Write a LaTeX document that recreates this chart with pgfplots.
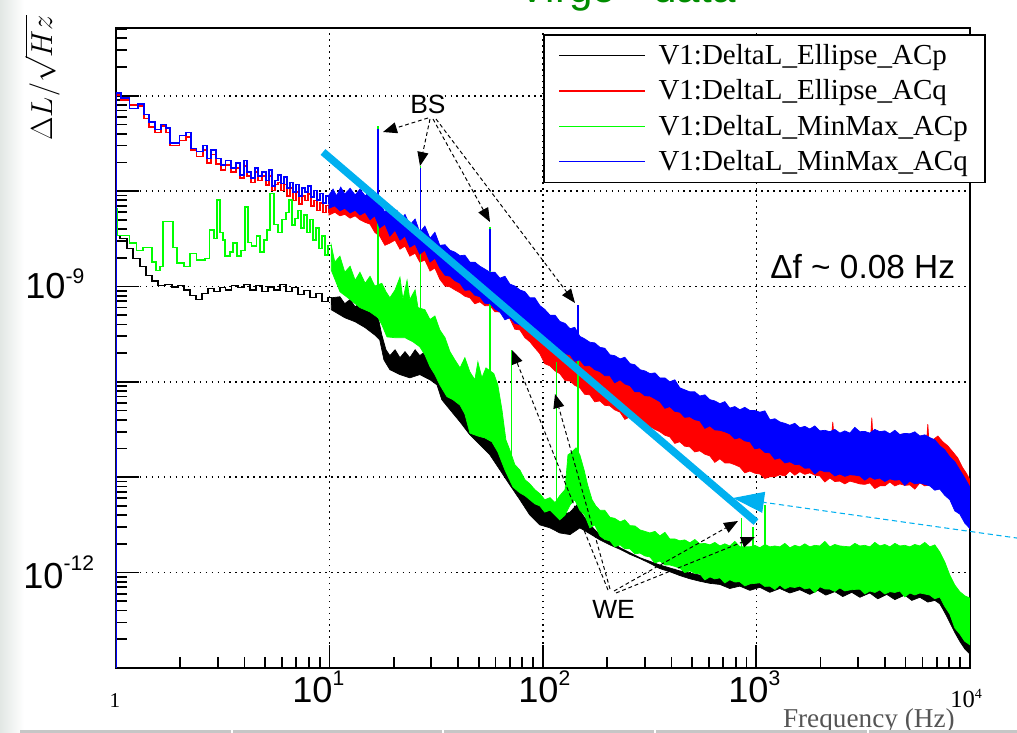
\documentclass[border=0pt]{standalone}
\usepackage{fontspec}
\setmainfont{Liberation Serif}
\setsansfont{Liberation Sans}
\usepackage{pgfplots}
\pgfplotsset{compat=1.18}
\usetikzlibrary{arrows.meta}
\definecolor{rgreen}{RGB}{0,255,0}
\definecolor{rred}{RGB}{255,0,0}
\definecolor{rblue}{RGB}{0,0,255}
\definecolor{cyanline}{RGB}{0,176,240}
\definecolor{titlegreen}{RGB}{0,140,0}
\definecolor{freqgray}{RGB}{85,85,85}
\pgfplotsset{
  steps/.style={const plot, forget plot, line width=0.75pt},
  band/.style={forget plot, line width=0.4pt},
  spike/.style={forget plot, line width=0.75pt},
}
\begin{document}
\begin{tikzpicture}
\begin{scope}[x=0.02cm, y=-0.02cm]
\shade[left color={rgb,255:red,226;green,231;blue,228}, right color=white] (0,0) rectangle (24,733);
\end{scope}
\begin{axis}[
  at={(2.32cm,-13.36cm)}, anchor=south west,
  scale only axis, width=17.08cm, height=12.8cm,
  xmode=log, ymode=log,
  xmin=1, xmax=10000, ymin=1e-13, ymax=5.13e-7,
  xtick={1,10,100,1000,10000},
  ytick={1e-13,1e-12,1e-11,1e-10,1e-9,1e-8,1e-7},
  minor xtick={2,3,4,5,6,7,8,9,20,30,40,50,60,70,80,90,200,300,400,500,600,700,800,900,2000,3000,4000,5000,6000,7000,8000,9000},
  minor ytick={2e-13,3e-13,4e-13,5e-13,6e-13,7e-13,8e-13,9e-13,2e-12,3e-12,4e-12,5e-12,6e-12,7e-12,8e-12,9e-12,2e-11,3e-11,4e-11,5e-11,6e-11,7e-11,8e-11,9e-11,2e-10,3e-10,4e-10,5e-10,6e-10,7e-10,8e-10,9e-10,2e-9,3e-9,4e-9,5e-9,6e-9,7e-9,8e-9,9e-9,2e-8,3e-8,4e-8,5e-8,6e-8,7e-8,8e-8,9e-8,2e-7,3e-7,4e-7,5e-7},
  xticklabels={}, yticklabels={},
  xtick pos=left, ytick pos=left,
  tick align=inside,
  major tick length=0.46cm, minor tick length=0.22cm,
  tick style={black, line width=1pt},
  grid=major,
  major grid style={black, line width=0.9pt, dash pattern=on 0.9pt off 2.5pt},
  axis line style={black, line width=1.1pt},
  legend style={at={(0.5,0.9906)}, anchor=north west, draw=black, line width=1.1pt, fill=white,
    inner xsep=0.3cm, inner ysep=0.14cm, row sep=0.15cm, column sep=0.2cm,
    font=\fontsize{16.5}{19}\selectfont, nodes={inner sep=0.05cm}},
  legend cell align=left,
  legend image code/.code={\draw[#1, line width=0.7pt] (0cm,0cm) -- (1.72cm,0cm);},
]
\addlegendimage{black}\addlegendentry{V1:DeltaL\_Ellipse\_ACp}
\addlegendimage{rred}\addlegendentry{V1:DeltaL\_Ellipse\_ACq}
\addlegendimage{rgreen}\addlegendentry{V1:DeltaL\_MinMax\_ACp}
\addlegendimage{rblue}\addlegendentry{V1:DeltaL\_MinMax\_ACq}

% ---------------- black: V1:DeltaL_Ellipse_ACp
\addplot[steps, black] coordinates {(1,1e-13) (1,3.45e-9) (1.044,3.2e-9) (1.126,2.52e-9) (1.20,1.98e-9) (1.295,1.63e-9) (1.382,1.31e-9) (1.474,1.14e-9) (1.573,1.03e-9) (1.697,1.05e-9) (1.83,9.9e-10) (1.95,1.02e-9) (2.08,9.2e-10) (2.22,8.0e-10) (2.37,7.3e-10) (2.53,8.4e-10) (2.70,9.5e-10) (2.88,8.8e-10) (3.07,9.7e-10) (3.27,9.2e-10) (3.49,1.03e-9) (3.73,9.7e-10) (3.98,1.05e-9) (4.24,9.2e-10) (4.53,1.02e-9) (4.83,8.8e-10) (5.15,9.9e-10) (5.50,9.2e-10) (5.86,1.05e-9) (6.25,8.8e-10) (6.67,9.7e-10) (7.12,8.2e-10) (7.60,9.0e-10) (8.10,7.6e-10) (8.65,8.4e-10) (9.22,6.9e-10) (9.84,7.6e-10) (10.2,6.4e-10)};
\addplot[band, draw=black, fill=black] coordinates {(10.2,7.6e-10) (11.2,7.8e-10) (11.8,6.6e-10) (12.5,7.3e-10) (13.2,6.1e-10) (13.9,6.75e-10) (14.7,5.7e-10) (15.5,6.4e-10) (16.7,5.4e-10) (17.6,3.1e-10) (18.4,2.17e-10) (19.2,1.88e-10) (20.3,2.17e-10) (21.4,1.79e-10) (22.6,2.07e-10) (23.8,1.79e-10) (25.2,2.17e-10) (26.5,1.88e-10) (28.0,2.07e-10) (29.6,1.70e-10) (31.9,1.51e-10) (33.6,1.05e-10) (35.5,7.85e-11) (38.7,6.5e-11) (42.2,5.3e-11) (45.5,4.6e-11) (50.7,3.8e-11) (56.5,3.1e-11) (62.9,2.46e-11) (70.0,1.59e-11) (78.0,1.03e-11) (86.9,7.0e-12) (96.8,5.25e-12) (108,4.5e-12) (120,3.9e-12) (134,4.3e-12) (144,5.1e-12) (154,4.0e-12) (166,3.16e-12) (185,2.5e-12) (230,1.82e-12) (285,1.43e-12) (353,1.2e-12) (438,1.04e-12) (543,9.4e-13) (675,8.8e-13) (837,8.4e-13) (1039,8.0e-13) (1599,7.6e-13) (2742,7.2e-13) (4701,7.2e-13) (6856,6.9e-13) (7637,4.6e-13) (8507,2.8e-13) (9474,1.96e-13) (10000,1.75e-13)
(10000,1.4e-13) (9474,1.58e-13) (8977,1.9e-13) (8507,2.35e-13) (8060,3.0e-13) (7637,3.8e-13) (7237,4.7e-13) (6856,5.1e-13) (6359,4.9e-13) (5833,5.5e-13) (5349,5.1e-13) (4962,5.8e-13) (4455,5.2e-13) (4083,5.9e-13) (3707,5.3e-13) (3402,6.1e-13) (3054,5.5e-13) (2800,6.2e-13) (2541,5.6e-13) (2332,6.3e-13) (2116,5.8e-13) (1941,6.5e-13) (1781,5.9e-13) (1599,6.6e-13) (1435,6.1e-13) (1288,6.8e-13) (1157,6.2e-13) (1039,7.0e-13) (933,6.5e-13) (837,7.2e-13) (751,6.8e-13) (675,7.5e-13) (606,7.7e-13) (543,8.1e-13) (488,8.6e-13) (438,9.3e-13) (393,1.02e-12) (353,1.1e-12) (317,1.25e-12) (285,1.4e-12) (256,1.55e-12) (230,1.75e-12) (206,1.95e-12) (185,2.2e-12) (166,2.55e-12) (149,2.94e-12) (134,2.5e-12) (120,2.6e-12) (108,2.94e-12) (96.8,3.16e-12) (86.9,4.0e-12) (78.0,5.8e-12) (70.0,8.3e-12) (62.9,1.19e-11) (56.5,1.71e-11) (50.7,2.18e-11) (45.5,2.78e-11) (40.9,3.8e-11) (36.7,5.1e-11) (33.6,6.5e-11) (31.9,9.3e-11) (29.6,1.05e-10) (26.5,1.19e-10) (23.8,1.1e-10) (21.4,1.19e-10) (19.2,1.34e-10) (18.0,1.70e-10) (17.2,2.76e-10) (16.3,3.1e-10) (14.7,3.7e-10) (13.2,4.26e-10) (11.8,4.7e-10) (10.2,5.7e-10)} -- cycle;

% ---------------- red: V1:DeltaL_Ellipse_ACq
\addplot[steps, rred] coordinates {(1,1e-13) (1,1.02e-7) (1.055,9.0e-8) (1.16,8.0e-8) (1.268,7.8e-8) (1.352,5.8e-8) (1.428,4.7e-8) (1.523,4.1e-8) (1.625,4.8e-8) (1.714,4.1e-8) (1.79,3.0e-8) (1.99,3.4e-8) (2.13,3.7e-8) (2.245,2.7e-8) (2.39,2.3e-8) (2.556,2.7e-8) (2.67,1.97e-8) (2.786,2.4e-8) (2.94,1.92e-8) (3.10,1.66e-8) (3.27,1.88e-8) (3.46,1.58e-8) (3.65,1.74e-8) (3.81,1.37e-8) (3.98,1.83e-8) (4.11,1.44e-8) (4.29,1.24e-8) (4.48,1.58e-8) (4.62,1.30e-8) (4.83,1.44e-8) (5.04,1.16e-8) (5.21,1.44e-8) (5.38,1.02e-8) (5.55,1.18e-8) (5.74,1.24e-8) (5.93,1.02e-8) (6.12,1.18e-8) (6.32,8.9e-9) (6.53,1.08e-8) (6.75,8.0e-9) (6.97,9.8e-9) (7.20,7.3e-9) (7.43,8.9e-9) (7.68,8.0e-9) (7.93,9.3e-9) (8.19,7.0e-9) (8.46,8.0e-9) (8.74,6.3e-9) (9.03,7.5e-9) (9.32,6.0e-9) (9.63,7.1e-9) (9.95,5.9e-9)};
\addplot[band, draw=rred, fill=rred] coordinates {(9.95,7.3e-9) (11.2,7.3e-9) (12.5,7.7e-9) (13.9,7.1e-9) (15.5,6.6e-9) (17.2,5.7e-9) (19.2,4.7e-9) (21.4,4.2e-9) (23.8,3.7e-9) (26.5,3.1e-9) (29.6,2.7e-9) (32.9,2.3e-9) (36.7,2.03e-9) (40.9,1.76e-9) (45.5,1.56e-9) (50.7,1.38e-9) (56.5,1.19e-9) (62.9,1.03e-9) (70.0,9.0e-10) (78.0,7.8e-10) (86.9,6.4e-10) (96.8,5.3e-10) (108,4.4e-10) (120,3.6e-10) (134,3.05e-10) (149,2.56e-10) (166,2.22e-10) (185,1.92e-10) (230,1.47e-10) (285,1.1e-10) (353,8.65e-11) (438,6.8e-11) (543,5.6e-11) (675,4.6e-11) (837,4.0e-11) (1039,3.45e-11) (1288,3.0e-11) (1599,2.7e-11) (1984,2.7e-11) (2250,2.7e-11) (2281,3.8e-11) (2310,2.7e-11) (2742,2.7e-11) (3258,2.85e-11) (3440,2.85e-11) (3475,4.2e-11) (3510,2.85e-11) (4221,2.7e-11) (4962,2.85e-11) (5833,2.7e-11) (6300,2.7e-11) (6359,3.6e-11) (6420,2.6e-11) (6710,2.46e-11) (7087,2.7e-11) (7473,2.35e-11) (7888,2.13e-11) (8326,1.84e-11) (8786,1.59e-11) (9273,1.25e-11) (9683,1.08e-11) (10000,9.4e-12)
(10000,7.7e-12) (9474,8.1e-12) (8977,9.8e-12) (8507,9.6e-12) (8060,9.8e-12) (7637,8.3e-12) (7237,8.5e-12) (6856,8.4e-12) (6497,8.3e-12) (6152,8.1e-12) (5833,8.7e-12) (5527,7.5e-12) (5237,8.3e-12) (4962,8.2e-12) (4701,8.5e-12) (4455,8.1e-12) (4221,8.9e-12) (3999,8.1e-12) (3789,8.1e-12) (3590,7.6e-12) (3402,8.7e-12) (3223,8.4e-12) (3054,8.5e-12) (2893,8.8e-12) (2742,9.1e-12) (2598,8.5e-12) (2462,9.1e-12) (2332,9.0e-12) (2210,9.8e-12) (2094,8.9e-12) (1984,1.03e-11) (1880,1.05e-11) (1781,1.11e-11) (1687,1.07e-11) (1599,1.14e-11) (1514,1.05e-11) (1435,1.16e-11) (1360,1.03e-11) (1288,1.06e-11) (1221,1.01e-11) (1157,1.01e-11) (1096,9.7e-12) (1039,1.08e-11) (984,1.1e-11) (933,1.16e-11) (883,1.11e-11) (837,1.28e-11) (793,1.35e-11) (751,1.41e-11) (712,1.41e-11) (675,1.56e-11) (639,1.43e-11) (606,1.67e-11) (574,1.74e-11) (543,1.89e-11) (515,1.84e-11) (488,2.08e-11) (462,2.11e-11) (438,2.35e-11) (415,2.26e-11) (393,2.65e-11) (373,2.75e-11) (353,3.0e-11) (335,3.17e-11) (317,3.4e-11) (301,3.33e-11) (285,3.8e-11) (270,3.85e-11) (256,4.3e-11) (242,4.04e-11) (230,4.8e-11) (217,5.08e-11) (206,5.6e-11) (195,5.67e-11) (185,6.3e-11) (175,6.17e-11) (166,7.3e-11) (157,7.4e-11) (149,8.65e-11) (141,9.2e-11) (134,1.02e-10) (127,1.03e-10) (120,1.22e-10) (114,1.30e-10) (108,1.47e-10) (102,1.55e-10) (96.8,1.97e-10) (91.7,2.27e-10) (86.9,2.63e-10) (82.4,2.9e-10) (78.0,3.5e-10) (73.9,3.56e-10) (70.0,4.6e-10) (66.4,4.86e-10) (62.9,5.4e-10) (59.6,5.43e-10) (56.5,6.3e-10) (53.5,6.27e-10) (50.7,6.9e-10) (48.0,6.58e-10) (45.5,7.6e-10) (43.1,7.9e-10) (40.9,8.6e-10) (38.7,9.2e-10) (36.7,9.9e-10) (34.8,1.01e-9) (32.9,1.19e-9) (31.2,1.56e-9) (29.6,1.45e-9) (28.0,1.89e-9) (26.5,1.80e-9) (25.2,2.23e-9) (23.8,2.08e-9) (22.6,2.65e-9) (21.4,2.46e-9) (20.3,3.06e-9) (19.2,2.85e-9) (18.2,2.7e-9) (17.2,3.37e-9) (16.3,3.7e-9) (15.5,4.5e-9) (14.7,4.7e-9) (13.9,5.0e-9) (13.2,5.5e-9) (12.5,5.2e-9) (11.8,5.7e-9) (11.2,5.5e-9) (10.6,6.0e-9) (9.95,5.6e-9)} -- cycle;

% ---------------- green: V1:DeltaL_MinMax_ACp
\addplot[steps, rgreen] coordinates {(1,1e-13) (1,6.6e-9) (1.02,3.45e-9) (1.16,2.85e-9) (1.25,2.4e-9) (1.34,2.58e-9) (1.474,1.80e-9) (1.54,1.48e-9) (1.61,1.63e-9) (1.66,4.8e-9) (1.85,2.58e-9) (1.93,1.76e-9) (2.08,1.63e-9) (2.22,2.23e-9) (2.39,1.89e-9) (2.61,1.98e-9) (2.75,3.9e-9) (2.88,3.2e-9) (2.97,8.05e-9) (3.07,3.7e-9) (3.17,3.06e-9) (3.24,2.08e-9) (3.42,2.29e-9) (3.53,2.85e-9) (3.69,2.08e-9) (3.85,2.4e-9) (4.02,6.8e-9) (4.15,2.91e-9) (4.33,2.65e-9) (4.57,3.37e-9) (4.73,2.29e-9) (4.93,3.06e-9) (5.10,3.9e-9) (5.26,9.5e-9) (5.50,4.5e-9) (5.74,3.7e-9) (5.99,5.0e-9) (6.25,6.0e-9) (6.46,8.05e-9) (6.67,4.4e-9) (6.89,5.2e-9) (7.12,6.3e-9) (7.35,4.1e-9) (7.60,5.6e-9) (7.85,3.7e-9) (8.10,5.0e-9) (8.37,3.06e-9) (8.65,4.1e-9) (8.93,2.52e-9) (9.22,3.37e-9) (9.53,2.13e-9) (9.84,2.7e-9) (10.2,1.80e-9)};
\addplot[band, draw=rgreen, fill=rgreen] coordinates {(10.2,2.7e-9) (10.6,1.80e-9) (11.2,2.08e-9) (11.8,1.41e-9) (12.5,1.63e-9) (13.2,1.16e-9) (13.9,1.41e-9) (14.7,1.08e-9) (15.5,1.28e-9) (16.3,1.01e-9) (17.6,1.08e-9) (18.4,8.8e-10) (19.2,7.6e-10) (20.3,9.2e-10) (21.4,1.25e-9) (22.1,7.3e-10) (23.1,1.16e-9) (23.8,7.3e-10) (25.2,9.2e-10) (26.0,6.0e-10) (28.0,5.7e-10) (29.6,4.5e-10) (31.2,4.9e-10) (32.9,3.5e-10) (34.8,2.9e-10) (36.7,2.07e-10) (38.7,1.70e-10) (40.9,1.40e-10) (43.1,1.79e-10) (45.5,1.27e-10) (48.0,1.05e-10) (49.6,1.62e-10) (51.8,1.10e-10) (54.1,1.40e-10) (58.9,1.22e-10) (61.5,9.3e-11) (64.3,5.1e-11) (67.1,2.46e-11) (70.0,1.93e-11) (73.9,1.35e-11) (78.0,1.19e-11) (82.4,9.4e-12) (86.9,8.5e-12) (91.7,7.4e-12) (96.8,6.7e-12) (102,5.8e-12) (108,6.1e-12) (114,5.4e-12) (120,6.4e-12) (127,7.4e-12) (131,1.71e-11) (137,1.84e-11) (143,2.03e-11) (149,1.71e-11) (156,1.19e-11) (162,8.3e-12) (170,5.8e-12) (177,5.0e-12) (185,4.5e-12) (195,4.49e-12) (206,3.8e-12) (217,3.7e-12) (230,3.4e-12) (242,3.57e-12) (256,3.1e-12) (270,3.08e-12) (285,2.8e-12) (301,2.7e-12) (317,2.6e-12) (335,2.7e-12) (353,2.42e-12) (373,2.64e-12) (393,2.25e-12) (415,2.25e-12) (438,2.15e-12) (462,2.2e-12) (488,2.05e-12) (515,2.22e-12) (543,2.0e-12) (574,2.02e-12) (606,1.95e-12) (639,2.07e-12) (675,1.9e-12) (712,2.0e-12) (751,1.9e-12) (793,2.12e-12) (837,1.86e-12) (883,1.86e-12) (933,1.86e-12) (984,1.93e-12) (1039,1.82e-12) (1096,1.97e-12) (1157,1.86e-12) (1221,1.9e-12) (1288,1.86e-12) (1360,2.02e-12) (1435,1.82e-12) (1514,1.93e-12) (1599,1.86e-12) (1687,2.0e-12) (1781,1.86e-12) (1880,1.93e-12) (1984,1.9e-12) (2094,2.12e-12) (2210,1.86e-12) (2332,1.97e-12) (2462,1.9e-12) (2598,1.88e-12) (2742,1.86e-12) (2893,2.02e-12) (3054,1.9e-12) (3223,1.93e-12) (3402,1.86e-12) (3590,2.07e-12) (3789,1.9e-12) (3999,1.97e-12) (4221,1.86e-12) (4455,2.02e-12) (4701,1.9e-12) (4962,1.93e-12) (5237,1.86e-12) (5527,1.97e-12) (5833,1.9e-12) (6152,2.07e-12) (6497,1.86e-12) (6856,1.95e-12) (7237,1.64e-12) (7637,1.29e-12) (8060,9.4e-13) (8507,7.4e-13) (8977,6.3e-13) (9474,5.7e-13) (10000,5.4e-13)
(10000,1.75e-13) (9474,1.9e-13) (8977,2.27e-13) (8507,2.62e-13) (8060,3.67e-13) (7637,4.4e-13) (7237,5.55e-13) (6856,5.3e-13) (6497,5.8e-13) (6152,5.96e-13) (5833,6.1e-13) (5527,5.82e-13) (5237,6.1e-13) (4962,5.55e-13) (4701,6.4e-13) (4455,6.18e-13) (4221,6.3e-13) (3999,5.96e-13) (3789,6.57e-13) (3590,6.18e-13) (3402,6.4e-13) (3223,5.96e-13) (3054,6.7e-13) (2893,6.65e-13) (2742,6.57e-13) (2598,6.41e-13) (2462,6.9e-13) (2332,6.33e-13) (2210,6.7e-13) (2094,6.73e-13) (1984,7.1e-13) (1880,6.18e-13) (1781,6.9e-13) (1687,6.73e-13) (1599,7.2e-13) (1514,6.97e-13) (1435,7.1e-13) (1360,6.73e-13) (1288,7.4e-13) (1221,6.65e-13) (1157,7.2e-13) (1096,7.15e-13) (1039,7.8e-13) (984,7.7e-13) (933,7.6e-13) (883,7.24e-13) (837,8.0e-13) (793,7.96e-13) (751,8.4e-13) (712,7.78e-13) (675,8.8e-13) (639,8.57e-13) (606,9.0e-13) (574,8.37e-13) (543,9.7e-13) (515,9.8e-13) (488,1.04e-12) (462,1.0e-12) (438,1.11e-12) (415,1.16e-12) (393,1.2e-12) (373,1.2e-12) (353,1.32e-12) (335,1.26e-12) (317,1.46e-12) (301,1.49e-12) (285,1.6e-12) (270,1.57e-12) (256,1.77e-12) (242,1.77e-12) (230,1.95e-12) (217,1.86e-12) (206,2.15e-12) (195,2.22e-12) (185,2.42e-12) (175,3.16e-12) (166,2.94e-12) (157,4.0e-12) (149,4.5e-12) (141,5.8e-12) (134,5.1e-12) (127,4.0e-12) (120,3.57e-12) (114,4.0e-12) (108,4.5e-12) (102,4.3e-12) (96.8,5.0e-12) (91.7,5.25e-12) (86.9,5.8e-12) (82.4,6.4e-12) (78.0,6.85e-12) (72.4,7.9e-12) (66.4,1.19e-11) (61.5,1.84e-11) (57.7,2.35e-11) (53.5,2.58e-11) (49.6,2.7e-11) (45.5,2.9e-11) (43.1,4.6e-11) (40.9,5.7e-11) (37.9,6.5e-11) (35.5,7.0e-11) (32.9,9.3e-11) (31.2,1.19e-10) (29.6,1.44e-10) (28.0,1.92e-10) (26.5,2.33e-10) (24.6,2.63e-10) (22.6,2.9e-10) (20.3,2.9e-10) (18.6,2.96e-10) (17.6,3.97e-10) (16.9,4.7e-10) (15.5,5.4e-10) (13.9,6.0e-10) (12.5,7.3e-10) (11.2,8.8e-10) (10.2,1.48e-9)} -- cycle;
\addplot[spike, rgreen] coordinates {(16.9,4.7e-10) (16.9,4.8e-8)};
\addplot[spike, rgreen] coordinates {(26.8,2.6e-10) (26.8,1.85e-8)};
\addplot[spike, rgreen] coordinates {(56.5,2.4e-11) (56.5,4.2e-9)};
\addplot[spike, rgreen] coordinates {(71.2,9.3e-12) (71.2,2.18e-10)};
\addplot[spike, rgreen] coordinates {(116,4.3e-12) (116,1.63e-10)};
\addplot[spike, rgreen] coordinates {(146,5.8e-12) (146,1.8e-10)};
\addplot[spike, rgreen] coordinates {(855,1.4e-12) (855,3.7e-12)};
\addplot[spike, rgreen] coordinates {(963,1.4e-12) (963,3.0e-12)};
\addplot[spike, rgreen] coordinates {(1096,1.4e-12) (1096,5.1e-12)};

% ---------------- blue: V1:DeltaL_MinMax_ACq
\addplot[steps, rblue] coordinates {(1,1e-13) (1,1.07e-7) (1.055,9.5e-8) (1.16,7.4e-8) (1.268,8.2e-8) (1.352,6.4e-8) (1.428,5.3e-8) (1.523,4.4e-8) (1.625,5.0e-8) (1.714,4.6e-8) (1.79,3.2e-8) (1.99,3.8e-8) (2.13,4.1e-8) (2.245,2.8e-8) (2.39,2.6e-8) (2.556,3.0e-8) (2.67,2.2e-8) (2.786,2.7e-8) (2.94,2.2e-8) (3.10,1.88e-8) (3.27,2.1e-8) (3.46,1.74e-8) (3.65,1.97e-8) (3.81,1.47e-8) (3.98,2.1e-8) (4.11,1.58e-8) (4.29,1.37e-8) (4.48,1.74e-8) (4.62,1.44e-8) (4.83,1.58e-8) (5.04,1.30e-8) (5.21,1.66e-8) (5.38,1.13e-8) (5.55,1.30e-8) (5.74,1.47e-8) (5.93,1.21e-8) (6.12,1.40e-8) (6.32,1.08e-8) (6.53,1.24e-8) (6.75,9.8e-9) (6.97,1.18e-8) (7.20,8.9e-9) (7.43,1.08e-8) (7.68,9.8e-9) (7.93,1.13e-8) (8.19,8.65e-9) (8.46,1.02e-8) (8.74,8.05e-9) (9.03,9.5e-9) (9.32,7.5e-9) (9.63,8.9e-9) (9.95,7.3e-9)};
\addplot[band, draw=rblue, fill=rblue] coordinates {(9.95,9.1e-9) (10.4,1.05e-8) (10.8,8.9e-9) (11.3,1.10e-8) (11.8,9.3e-9) (12.5,1.07e-8) (13.2,9.1e-9) (13.9,1.05e-8) (14.7,8.9e-9) (15.5,1.0e-8) (16.3,8.0e-9) (17.2,7.5e-9) (18.2,6.0e-9) (19.0,7.0e-9) (19.8,5.5e-9) (20.7,6.3e-9) (21.6,5.0e-9) (22.6,5.7e-9) (23.8,4.4e-9) (25.2,5.1e-9) (26.5,3.7e-9) (28.0,4.3e-9) (29.6,3.2e-9) (31.2,3.7e-9) (32.9,2.7e-9) (34.8,2.74e-9) (36.7,2.4e-9) (38.7,2.29e-9) (40.9,2.1e-9) (43.1,2.13e-9) (45.5,1.8e-9) (48.0,1.80e-9) (50.7,1.63e-9) (53.5,1.52e-9) (56.5,1.41e-9) (59.6,1.41e-9) (62.9,1.22e-9) (66.4,1.28e-9) (70.0,1.06e-9) (73.9,1.01e-9) (78.0,9.2e-10) (82.4,8.8e-10) (86.9,7.6e-10) (91.7,7.6e-10) (96.8,6.3e-10) (102,5.75e-10) (108,5.0e-10) (114,5.0e-10) (120,4.3e-10) (127,4.1e-10) (134,3.6e-10) (141,3.73e-10) (149,3.0e-10) (157,2.82e-10) (166,2.6e-10) (175,2.56e-10) (185,2.3e-10) (195,2.25e-10) (206,1.92e-10) (217,1.88e-10) (230,1.74e-10) (242,1.81e-10) (256,1.55e-10) (270,1.51e-10) (285,1.34e-10) (301,1.30e-10) (317,1.22e-10) (335,1.24e-10) (353,1.10e-10) (373,1.10e-10) (393,1.0e-10) (415,1.05e-10) (438,8.65e-11) (462,8.24e-11) (488,7.85e-11) (515,7.85e-11) (543,7.1e-11) (574,7.3e-11) (606,6.5e-11) (639,6.3e-11) (675,5.9e-11) (712,6.2e-11) (751,5.3e-11) (793,5.5e-11) (837,5.1e-11) (883,5.4e-11) (933,5.0e-11) (984,5.0e-11) (1039,4.8e-11) (1096,4.96e-11) (1157,4.0e-11) (1221,4.1e-11) (1288,3.8e-11) (1360,3.67e-11) (1435,3.5e-11) (1514,3.67e-11) (1599,3.3e-11) (1687,3.41e-11) (1781,3.2e-11) (1880,3.45e-11) (1984,3.06e-11) (2094,3.1e-11) (2210,3.0e-11) (2332,3.17e-11) (2462,2.9e-11) (2598,3.06e-11) (2742,2.9e-11) (2893,3.33e-11) (3054,3.0e-11) (3223,3.02e-11) (3402,2.9e-11) (3590,3.17e-11) (3789,3.0e-11) (3999,3.06e-11) (4221,2.85e-11) (4455,3.1e-11) (4701,2.8e-11) (4962,2.88e-11) (5237,2.85e-11) (5527,2.99e-11) (5833,2.7e-11) (6152,2.78e-11) (6497,2.6e-11) (6856,2.46e-11) (7237,2.13e-11) (7637,1.93e-11) (8060,1.63e-11) (8507,1.45e-11) (8977,1.19e-11) (9474,9.8e-12) (10000,7.9e-12)
(10000,2.9e-12) (9474,3.3e-12) (8977,4.1e-12) (8507,4.43e-12) (8060,5.8e-12) (7637,6.45e-12) (7237,7.5e-12) (6856,7.3e-12) (6497,8.1e-12) (6152,8.4e-12) (5833,8.7e-12) (5527,8.5e-12) (5237,9.1e-12) (4962,8.2e-12) (4701,9.4e-12) (4455,9.3e-12) (4221,9.6e-12) (3999,9.0e-12) (3789,9.8e-12) (3590,9.5e-12) (3402,1.01e-11) (3223,9.3e-12) (3054,1.03e-11) (2893,1.05e-11) (2742,1.06e-11) (2598,1.02e-11) (2462,1.08e-11) (2332,1.03e-11) (2210,1.14e-11) (2094,1.14e-11) (1984,1.19e-11) (1880,1.08e-11) (1781,1.25e-11) (1687,1.24e-11) (1599,1.35e-11) (1514,1.36e-11) (1435,1.45e-11) (1360,1.41e-11) (1288,1.59e-11) (1221,1.54e-11) (1157,1.80e-11) (1096,1.82e-11) (1039,2.03e-11) (984,1.98e-11) (933,2.35e-11) (883,2.4e-11) (837,2.6e-11) (793,2.52e-11) (751,2.85e-11) (712,2.99e-11) (675,3.1e-11) (639,3.13e-11) (606,3.45e-11) (574,3.25e-11) (543,3.9e-11) (515,4.0e-11) (488,4.3e-11) (462,4.24e-11) (438,4.8e-11) (415,4.9e-11) (393,5.5e-11) (373,5.27e-11) (353,6.2e-11) (335,6.63e-11) (317,7.1e-11) (301,7.13e-11) (285,7.85e-11) (270,7.85e-11) (256,9.1e-11) (242,9.5e-11) (230,1.05e-10) (217,9.76e-11) (206,1.16e-10) (195,1.16e-10) (185,1.28e-10) (175,1.34e-10) (166,1.48e-10) (157,1.47e-10) (149,1.70e-10) (141,1.64e-10) (134,1.92e-10) (127,1.97e-10) (120,2.22e-10) (114,2.17e-10) (108,2.56e-10) (102,2.7e-10) (96.8,2.96e-10) (91.7,2.96e-10) (86.9,3.43e-10) (82.4,3.7e-10) (78.0,3.97e-10) (73.9,4.1e-10) (70.0,4.7e-10) (66.4,4.47e-10) (62.9,5.4e-10) (59.6,5.8e-10) (56.5,6.6e-10) (53.5,6.66e-10) (50.7,7.8e-10) (48.0,8.1e-10) (45.5,9.2e-10) (43.1,9.1e-10) (40.9,1.08e-9) (38.7,1.15e-9) (36.7,1.28e-9) (34.8,1.31e-9) (32.9,1.56e-9) (31.2,1.98e-9) (29.6,1.80e-9) (28.0,2.4e-9) (26.5,2.18e-9) (25.2,2.78e-9) (23.8,2.58e-9) (22.6,3.37e-9) (21.4,3.06e-9) (20.3,3.9e-9) (19.2,3.37e-9) (18.2,4.5e-9) (17.2,4.1e-9) (16.3,5.5e-9) (15.5,5.0e-9) (14.7,6.0e-9) (13.9,5.6e-9) (13.2,6.3e-9) (12.5,5.9e-9) (11.8,6.6e-9) (11.2,6.2e-9) (10.6,7.0e-9) (9.95,6.6e-9)} -- cycle;
\addplot[spike, rblue] coordinates {(16.9,7.2e-9) (16.9,4.5e-8)};
\addplot[spike, rblue] coordinates {(26.8,3.7e-9) (26.8,1.75e-8)};
\addplot[spike, rblue] coordinates {(56.5,1.45e-9) (56.5,4.0e-9)};
\addplot[spike, rblue] coordinates {(146,3.2e-10) (146,6.4e-10)};
\end{axis}

\begin{scope}[x=0.02cm, y=-0.02cm]
\node[anchor=base, inner sep=0, text=titlegreen, font=\sffamily\fontsize{24}{28}\selectfont] at (627,3) {Virgo - data};
\node[rotate=90, inner sep=0, font=\fontsize{18}{20}\selectfont] at (42,78) {$\Delta L/\sqrt{Hz}$};
\node[anchor=base west, inner sep=0, font=\sffamily\fontsize{20.6}{24}\selectfont] at (25,298) {10\raisebox{0.3cm}{\fontsize{12}{14}\selectfont -9}};
\node[anchor=base west, inner sep=0, font=\sffamily\fontsize{20.6}{24}\selectfont] at (23,588) {10\raisebox{0.36cm}{\fontsize{12}{14}\selectfont -12}};
\node[anchor=base west, inner sep=0, font=\sffamily\fontsize{20.6}{24}\selectfont] at (292,702) {10\raisebox{0.34cm}{\fontsize{12}{14}\selectfont 1}};
\node[anchor=base west, inner sep=0, font=\sffamily\fontsize{20.6}{24}\selectfont] at (518,702) {10\raisebox{0.34cm}{\fontsize{12}{14}\selectfont 2}};
\node[anchor=base west, inner sep=0, font=\sffamily\fontsize{20.6}{24}\selectfont] at (728,702) {10\raisebox{0.34cm}{\fontsize{12}{14}\selectfont 3}};
\node[anchor=base, inner sep=0, font=\fontsize{12}{14}\selectfont] at (115,707) {1};
\node[anchor=base west, inner sep=0, font=\fontsize{14}{16}\selectfont] at (950,707) {10\raisebox{0.17cm}{\fontsize{8}{9}\selectfont 4}};
\node[anchor=base east, inner sep=0, text=freqgray, font=\fontsize{15.5}{18}\selectfont] at (955,727) {Frequency (Hz)};
\node[anchor=base west, inner sep=0, font=\sffamily\fontsize{19}{22}\selectfont] at (770,278) {Δf \textasciitilde{} 0.08 Hz};
\node[anchor=base west, inner sep=0, font=\sffamily\fontsize{15}{18}\selectfont] at (410,114) {BS};
\node[anchor=base west, inner sep=0, font=\sffamily\fontsize{15}{18}\selectfont] at (592,618) {WE};
\draw[cyanline, line width=0.15cm] (323,152) -- (756,522);
\draw[cyanline, line width=0.6pt, dash pattern=on 3pt off 2pt, -{Triangle[length=0.62cm, width=0.42cm]}] (1045,542) -- (733,498);
\begin{scope}[line width=0.55pt, dash pattern=on 2.2pt off 1.6pt, -{Triangle[length=0.28cm, width=0.22cm]}]
\draw (428,118) -- (383,132);
\draw (430,119) -- (420,166);
\draw (433,119) -- (490,222);
\draw (436,119) -- (575,303);
\draw (610,589) -- (555,394);
\draw (608,590) -- (512,350);
\draw (614,591) -- (738,521);
\draw (616,593) -- (755,537);
\end{scope}
\fill[gray!45] (20,730) rectangle (1017,734);
\foreach \g in {232,443,655,868} {\fill[white] (\g-0.7,729) rectangle (\g+0.7,734);}
\pgfresetboundingbox
\useasboundingbox (0,0) rectangle (1017,733);
\end{scope}
\end{tikzpicture}
\end{document}
